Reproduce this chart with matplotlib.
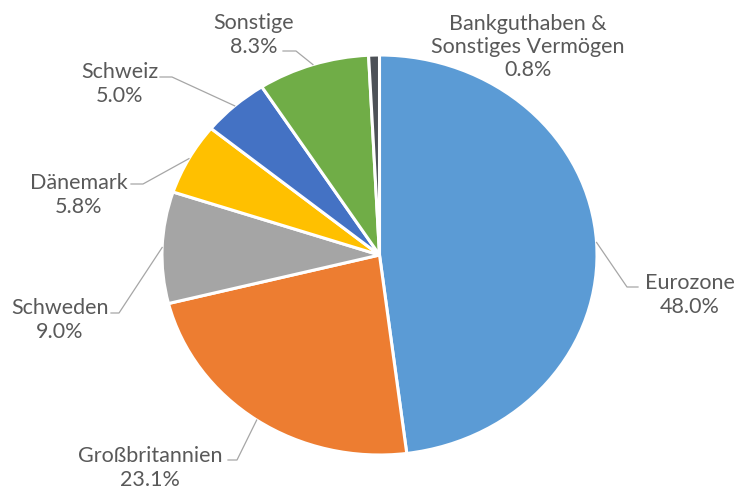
import numpy as np
import matplotlib
matplotlib.use("Agg")
import matplotlib.pyplot as plt
from matplotlib.lines import Line2D

categories = ["Eurozone", "Großbritannien", "Schweden", "Dänemark", "Schweiz",
              "Sonstige", "Bankguthaben &\nSonstiges Vermögen"]
values = [48.0, 23.1, 9.0, 5.8, 5.0, 8.3, 0.8]
colors = ["#5B9BD5", "#ED7D31", "#A5A5A5", "#FFC000", "#4472C4", "#70AD47", "#4D5157"]

W, H = 738, 491
fig = plt.figure(figsize=(W / 100, H / 100), dpi=100)
fig.patch.set_facecolor("white")

# pie bounding box in pixels (left, top, right, bottom)
pl, pt, pr, pb = 162, 55, 597, 455
ax = fig.add_axes([pl / W, 1 - pb / H, (pr - pl) / W, (pb - pt) / H])
wedges, _ = ax.pie(values, colors=colors, startangle=90, counterclock=False,
                   wedgeprops=dict(edgecolor="white", linewidth=2.2))
ax.set_aspect("auto")
ax.set_xlim(-1, 1)
ax.set_ylim(-1, 1)
ax.axis("off")

def px(x, y):
    return (x / W, 1 - y / H)

# label layout: text center (px), horizontal leader segment (px)
layout = {
    0: dict(text=(690, 295), seg=[(638, 287), (627, 287)]),
    1: dict(text=(150, 468), seg=[(228, 460), (237, 460)]),
    2: dict(text=(60, 320), seg=[(111, 313), (119, 313)]),
    3: dict(text=(79, 195), seg=[(131, 184), (143, 184)]),
    4: dict(text=(120, 84), seg=[(160, 77), (172, 77)]),
    5: dict(text=(254, 35), seg=[(283, 51), (296, 51)]),
    6: dict(text=(528, 47), seg=None),
}

text_color = "#595959"
line_color = "#A6A6A6"
fontfam = ["Lato", "DejaVu Sans"]

for i, w in enumerate(wedges):
    mid = np.deg2rad((w.theta1 + w.theta2) / 2)
    ax_pt = (np.cos(mid) * w.r, np.sin(mid) * w.r)
    disp = ax.transData.transform(ax_pt)
    anchor = fig.transFigure.inverted().transform(disp)
    lay = layout[i]
    label = f"{categories[i]}\n{values[i]:.1f}%"
    tx, ty = px(*lay["text"])
    fig.text(tx, ty, label, ha="center", va="center", fontsize=15.5,
             color=text_color, family=fontfam, linespacing=1.2)
    if lay["seg"] is not None:
        p1 = px(*lay["seg"][0])
        p2 = px(*lay["seg"][1])
        xs = [p1[0], p2[0], anchor[0]]
        ys = [p1[1], p2[1], anchor[1]]
        fig.add_artist(Line2D(xs, ys, transform=fig.transFigure,
                              color=line_color, linewidth=0.9))

fig.savefig("out.png", dpi=100, facecolor="white")
